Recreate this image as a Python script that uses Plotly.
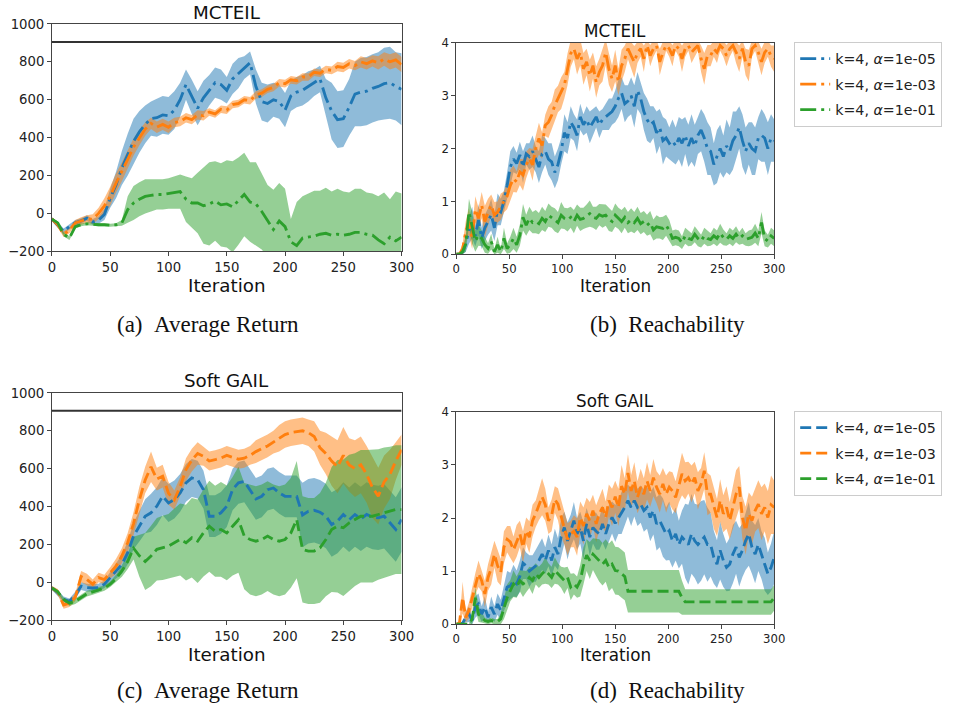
import plotly.graph_objects as go

# ---------------- data ----------------
ITER_RET = list(range(0, 301, 5))     # 61 points, return curves
ITER_REACH = list(range(0, 301, 3))   # 101 points, reachability curves
EXPERT_RETURN = 905
SERIES_NAMES = ["k=4, <i>α</i>=1e-05", "k=4, <i>α</i>=1e-03", "k=4, <i>α</i>=1e-01"]

# (a) MCTEIL - Average Return
A_BLUE_MEAN = [-30, -60, -95, -70, -50, -40, -25, -45, -35, -5,
               80, 150, 240, 310, 380, 430, 470, 500, 505, 520,
               515, 545, 600, 680, 615, 555, 610, 650, 690, 680,
               650, 710, 740, 770, 795, 670, 590, 580, 600, 590,
               545, 620, 640, 650, 670, 690, 710, 610, 540, 495,
               500, 560, 630, 640, 645, 660, 670, 685, 690, 670,
               655]
A_BLUE_STD = [10, 15, 15, 15, 15, 15, 15, 15, 20, 30,
              50, 70, 90, 110, 120, 110, 100, 90, 100, 100,
              100, 100, 90, 80, 90, 90, 90, 80, 80, 80,
              70, 80, 80, 60, 60, 90, 100, 100, 90, 90,
              90, 80, 80, 80, 80, 70, 70, 100, 150, 150,
              150, 150, 170, 180, 180, 180, 180, 190, 190, 180,
              190]
A_ORANGE_MEAN = [-30, -60, -110, -90, -50, -40, -30, -30, 0, 40,
                 90, 160, 220, 285, 350, 400, 445, 475, 455, 470,
                 455, 480, 485, 505, 495, 520, 515, 535, 525, 550,
                 545, 575, 580, 600, 595, 625, 635, 655, 665, 690,
                 685, 705, 700, 720, 720, 745, 740, 760, 755, 775,
                 770, 790, 780, 800, 790, 805, 795, 815, 800, 810,
                 785]
A_ORANGE_STD = [10, 15, 15, 15, 15, 20, 20, 25, 30, 40,
                50, 50, 50, 50, 45, 40, 35, 30, 30, 30,
                30, 25, 25, 25, 25, 25, 25, 20, 20, 20,
                20, 20, 20, 20, 20, 20, 20, 20, 20, 20,
                20, 20, 20, 20, 20, 20, 20, 20, 20, 25,
                25, 25, 25, 30, 30, 30, 35, 35, 40, 40,
                40]
A_GREEN_MEAN = [-30, -50, -110, -130, -70, -60, -55, -58, -60, -60,
                -62, -60, -50, 20, 55, 75, 90, 95, 100, 100,
                105, 110, 115, 75, 55, 55, 40, 50, 65, 45,
                50, 35, 65, 100, 60, 50, 10, -40, -85, -40,
                -70, -150, -170, -130, -125, -120, -110, -105, -115, -110,
                -115, -110, -100, -100, -110, -115, -140, -160, -125, -145,
                -125]
A_GREEN_STD = [5, 8, 10, 10, 10, 8, 8, 8, 8, 8,
               8, 8, 15, 70, 90, 90, 90, 85, 80, 80,
               80, 85, 90, 120, 130, 160, 200, 220, 210, 220,
               230, 240, 230, 220, 210, 220, 200, 190, 210, 200,
               200, 120, 230, 220, 230, 240, 230, 240, 230, 240,
               230, 220, 230, 230, 220, 220, 230, 270, 200, 260,
               230]

# (c) Soft GAIL - Average Return
C_BLUE_MEAN = [-30, -55, -90, -100, -70, -20, -28, -30, -28, -10,
               25, 60, 95, 156, 244, 296, 349, 367, 402, 454,
               419, 437, 472, 525, 551, 542, 489, 349, 349, 367,
               402, 490, 525, 533, 489, 440, 454, 489, 498, 472,
               454, 454, 454, 355, 375, 380, 370, 350, 305, 323,
               358, 330, 358, 335, 358, 345, 340, 349, 314, 279,
               332]
C_BLUE_STD = [10, 15, 15, 15, 20, 20, 20, 20, 20, 20,
              30, 40, 50, 60, 70, 80, 90, 100, 100, 100,
              100, 100, 100, 100, 100, 100, 100, 110, 110, 110,
              110, 110, 110, 110, 110, 110, 110, 110, 110, 110,
              110, 110, 110, 170, 170, 170, 170, 170, 170, 170,
              170, 170, 170, 170, 170, 170, 170, 170, 170, 170,
              170]
C_ORANGE_MEAN = [-30, -50, -120, -110, -80, 30, 15, -10, 25, 15,
                 50, 85, 140, 210, 310, 435, 540, 610, 545, 560,
                 470, 435, 505, 595, 645, 680, 665, 640, 647, 656,
                 670, 660, 650, 655, 670, 690, 705, 720, 740, 760,
                 780, 790, 795, 800, 790, 770, 710, 680, 640, 610,
                 670, 620, 600, 620, 570, 500, 455, 530, 570, 640,
                 700]
C_ORANGE_STD = [10, 15, 20, 20, 20, 30, 30, 25, 25, 25,
                30, 40, 40, 50, 60, 70, 70, 80, 60, 60,
                60, 50, 50, 60, 60, 60, 50, 50, 50, 50,
                50, 50, 50, 50, 50, 60, 60, 60, 60, 70,
                70, 70, 70, 70, 70, 80, 90, 110, 130, 140,
                150, 140, 150, 150, 150, 160, 150, 140, 130, 100,
                80]
C_GREEN_MEAN = [-30, -50, -90, -110, -100, -80, -60, -50, -40, -30,
                -10, 20, 60, 110, 180, 140, 110, 139, 174, 182,
                191, 209, 226, 209, 235, 217, 261, 296, 270, 279,
                261, 296, 330, 244, 226, 217, 226, 244, 226, 217,
                226, 261, 331, 174, 165, 165, 182, 226, 279, 296,
                288, 314, 331, 349, 349, 349, 358, 367, 375, 384,
                384]
C_GREEN_STD = [5, 10, 10, 15, 15, 15, 15, 15, 15, 15,
               15, 20, 30, 40, 60, 110, 150, 160, 165, 170,
               170, 180, 190, 200, 210, 220, 230, 240, 240, 250,
               250, 260, 280, 280, 290, 290, 290, 290, 290, 290,
               290, 290, 310, 280, 280, 280, 290, 300, 330, 350,
               360, 360, 350, 350, 350, 350, 345, 345, 340, 340,
               340]

# (b) MCTEIL - Reachability
B_BLUE_MEAN = [0, 0, 0.05, 0.2, 0.45, 0.6, 0.35, 0.65, 0.3, 0.5,
               0.62, 0.75, 0.5, 0.85, 0.8, 1.0, 1.3, 1.65, 1.8, 1.72,
               1.88, 1.65, 1.9, 1.85, 1.95, 1.8, 1.65, 1.9, 1.95, 1.8,
               1.75, 1.55, 1.7, 1.95, 2.3, 2.2, 2.5, 2.4, 2.25, 2.6,
               2.45, 2.55, 2.4, 2.5, 2.6, 2.45, 2.55, 2.6, 2.65, 2.7,
               2.8, 2.95, 3.05, 2.85, 2.9, 3.0, 2.8, 3.1, 2.95, 2.7,
               2.55, 2.45, 2.5, 2.3, 2.4, 2.15, 2.2, 2.1, 2.15, 2.05,
               2.2, 2.1, 2.25, 2.05, 2.2, 2.05, 2.25, 2.35, 2.2, 2.0,
               1.95, 1.7, 1.85, 2.0, 1.85, 2.05, 1.95, 2.15, 2.25, 2.4,
               2.15, 1.95, 2.1, 2.0, 1.95, 2.2, 2.25, 2.2, 2.0, 2.2,
               2.15]
B_BLUE_STD = [0, 0, 0.05, 0.15, 0.25, 0.3, 0.2, 0.3, 0.2, 0.25,
              0.25, 0.3, 0.25, 0.3, 0.25, 0.2, 0.25, 0.3, 0.25, 0.2,
              0.25, 0.3, 0.2, 0.25, 0.3, 0.25, 0.3, 0.35, 0.25, 0.3,
              0.35, 0.3, 0.3, 0.25, 0.35, 0.3, 0.3, 0.25, 0.3, 0.25,
              0.2, 0.25, 0.3, 0.25, 0.2, 0.25, 0.2, 0.25, 0.3, 0.25,
              0.3, 0.35, 0.3, 0.35, 0.3, 0.35, 0.4, 0.35, 0.3, 0.35,
              0.4, 0.35, 0.3, 0.4, 0.35, 0.45, 0.35, 0.3, 0.4, 0.35,
              0.4, 0.45, 0.35, 0.4, 0.45, 0.4, 0.35, 0.4, 0.45, 0.5,
              0.45, 0.4, 0.5, 0.45, 0.4, 0.5, 0.45, 0.55, 0.45, 0.4,
              0.5, 0.45, 0.4, 0.5, 0.45, 0.4, 0.5, 0.45, 0.5, 0.45,
              0.4]
B_ORANGE_MEAN = [0, 0, 0.1, 0.43, 0.62, 0.3, 0.85, 0.68, 0.93, 0.62,
                 0.8, 0.93, 0.74, 0.8, 0.9, 0.99, 1.1, 1.3, 1.43, 1.37,
                 1.56, 1.5, 1.69, 1.81, 1.69, 2.0, 2.19, 2.06, 2.44, 2.5,
                 2.63, 2.82, 2.94, 3.05, 3.2, 3.5, 3.8, 3.89, 3.7, 3.82,
                 3.51, 3.64, 3.38, 3.57, 3.26, 3.45, 3.57, 3.82, 3.51, 3.32,
                 3.57, 3.26, 3.57, 3.7, 3.89, 3.76, 3.64, 3.82, 3.89, 3.7,
                 3.95, 3.76, 3.89, 3.95, 3.64, 3.82, 3.95, 3.89, 3.76, 3.95,
                 3.89, 3.7, 3.89, 3.95, 3.82, 3.89, 3.95, 3.7, 3.51, 3.76,
                 3.76, 3.89, 3.82, 3.95, 3.89, 3.76, 3.89, 3.95, 3.82, 3.7,
                 3.89, 3.64, 3.57, 3.89, 3.95, 3.82, 3.64, 3.82, 3.89, 3.75,
                 3.7]
B_ORANGE_STD = [0, 0.05, 0.1, 0.2, 0.25, 0.2, 0.25, 0.2, 0.25, 0.3,
                0.25, 0.2, 0.25, 0.2, 0.25, 0.2, 0.25, 0.3, 0.25, 0.2,
                0.25, 0.3, 0.25, 0.2, 0.3, 0.25, 0.3, 0.25, 0.2, 0.3,
                0.25, 0.3, 0.25, 0.3, 0.25, 0.3, 0.25, 0.2, 0.3, 0.25,
                0.3, 0.25, 0.3, 0.25, 0.3, 0.25, 0.3, 0.25, 0.3, 0.25,
                0.3, 0.25, 0.3, 0.25, 0.2, 0.25, 0.3, 0.2, 0.15, 0.25,
                0.1, 0.2, 0.15, 0.1, 0.25, 0.2, 0.1, 0.15, 0.2, 0.1,
                0.15, 0.25, 0.15, 0.1, 0.2, 0.15, 0.1, 0.25, 0.3, 0.2,
                0.2, 0.15, 0.2, 0.1, 0.15, 0.2, 0.15, 0.1, 0.2, 0.25,
                0.15, 0.25, 0.3, 0.15, 0.1, 0.2, 0.25, 0.2, 0.15, 0.2,
                0.25]
B_GREEN_MEAN = [0, 0, 0.05, 0.2, 0.8, 0.5, 0.25, 0.36, 0.3, 0.18,
                0.11, 0.24, 0.05, 0.18, 0.05, 0.3, 0.11, 0.18, 0.3, 0.18,
                0.36, 0.7, 0.55, 0.68, 0.6, 0.62, 0.58, 0.68, 0.62, 0.74,
                0.7, 0.65, 0.6, 0.74, 0.68, 0.65, 0.7, 0.62, 0.74, 0.66,
                0.68, 0.72, 0.77, 0.7, 0.68, 0.75, 0.72, 0.74, 0.66, 0.62,
                0.74, 0.68, 0.62, 0.7, 0.6, 0.65, 0.6, 0.68, 0.58, 0.62,
                0.55, 0.6, 0.46, 0.52, 0.5, 0.49, 0.55, 0.45, 0.3, 0.32,
                0.3, 0.22, 0.35, 0.3, 0.28, 0.38, 0.3, 0.25, 0.35, 0.3,
                0.28, 0.35, 0.3, 0.4, 0.32, 0.28, 0.35, 0.3, 0.38, 0.3,
                0.35, 0.28, 0.3, 0.32, 0.4, 0.3, 0.6, 0.3, 0.25, 0.35,
                0.3]
B_GREEN_STD = [0, 0, 0.05, 0.15, 0.25, 0.3, 0.2, 0.2, 0.15, 0.15,
               0.1, 0.15, 0.05, 0.15, 0.05, 0.2, 0.1, 0.15, 0.2, 0.15,
               0.2, 0.25, 0.2, 0.22, 0.2, 0.22, 0.2, 0.22, 0.2, 0.22,
               0.2, 0.22, 0.2, 0.25, 0.2, 0.22, 0.2, 0.22, 0.2, 0.22,
               0.2, 0.22, 0.25, 0.2, 0.22, 0.2, 0.22, 0.2, 0.22, 0.2,
               0.22, 0.2, 0.22, 0.2, 0.2, 0.22, 0.2, 0.22, 0.2, 0.2,
               0.2, 0.22, 0.2, 0.22, 0.2, 0.22, 0.2, 0.2, 0.15, 0.15,
               0.15, 0.12, 0.15, 0.15, 0.12, 0.15, 0.15, 0.12, 0.15, 0.15,
               0.12, 0.15, 0.15, 0.18, 0.15, 0.12, 0.15, 0.15, 0.15, 0.12,
               0.15, 0.12, 0.15, 0.15, 0.18, 0.15, 0.2, 0.15, 0.12, 0.15,
               0.15]

# (d) Soft GAIL - Reachability
D_BLUE_MEAN = [0, 0, 0.02, 0.13, 0.19, 0.07, 0.32, 0.38, 0.19, 0.32,
               0.13, 0.32, 0.19, 0.38, 0.26, 0.5, 0.7, 0.72, 0.82, 0.76,
               0.9, 1.15, 1.1, 1.0, 1.05, 1.1, 1.2, 1.32, 1.2, 1.39,
               1.2, 1.45, 1.32, 1.65, 1.82, 1.57, 1.76, 1.95, 1.7, 1.82,
               1.57, 1.89, 1.64, 1.82, 1.75, 1.7, 1.89, 1.7, 1.89, 2.01,
               1.9, 2.0, 2.1, 2.2, 2.33, 2.2, 2.33, 2.2, 2.26, 2.14,
               2.2, 2.01, 2.14, 1.89, 1.95, 1.82, 1.7, 1.76, 1.57, 1.7,
               1.5, 1.64, 1.57, 1.5, 1.7, 1.57, 1.5, 1.57, 1.64, 1.5,
               1.5, 1.26, 1.13, 1.39, 1.2, 1.07, 1.13, 1.32, 1.45, 1.26,
               1.39, 1.57, 1.7, 1.45, 1.32, 1.5, 1.3, 1.13, 0.95, 1.07,
               1.26]
D_BLUE_STD = [0, 0, 0.02, 0.1, 0.15, 0.07, 0.2, 0.2, 0.15, 0.2,
              0.1, 0.2, 0.15, 0.2, 0.2, 0.25, 0.3, 0.25, 0.3, 0.25,
              0.3, 0.3, 0.25, 0.3, 0.25, 0.3, 0.3, 0.3, 0.25, 0.3,
              0.3, 0.35, 0.3, 0.35, 0.3, 0.35, 0.3, 0.35, 0.3, 0.3,
              0.35, 0.3, 0.35, 0.3, 0.35, 0.3, 0.35, 0.3, 0.35, 0.3,
              0.35, 0.3, 0.4, 0.35, 0.3, 0.35, 0.3, 0.35, 0.35, 0.4,
              0.4, 0.45, 0.45, 0.5, 0.5, 0.55, 0.5, 0.55, 0.5, 0.5,
              0.45, 0.5, 0.7, 0.75, 0.75, 0.7, 0.75, 0.75, 0.7, 0.7,
              0.6, 0.5, 0.45, 0.55, 0.5, 0.45, 0.5, 0.55, 0.5, 0.55,
              0.5, 0.55, 0.6, 0.5, 0.55, 0.5, 0.45, 0.5, 0.4, 0.45,
              0.5]
D_ORANGE_MEAN = [0, 0.02, 0.5, 0.13, 0.26, 0.5, 0.76, 0.95, 0.82, 0.57,
                 0.88, 1.05, 1.32, 1.1, 0.98, 1.45, 1.6, 1.55, 1.4, 1.57,
                 1.7, 1.45, 1.76, 1.64, 1.95, 2.08, 2.26, 2.4, 2.25, 1.95,
                 2.05, 2.35, 2.26, 2.0, 1.8, 1.6, 1.7, 1.75, 1.64, 2.01,
                 1.85, 2.08, 1.95, 2.14, 1.89, 2.08, 2.2, 2.01, 2.33, 2.2,
                 2.4, 2.2, 2.6, 2.45, 2.85, 2.51, 2.7, 2.39, 2.58, 2.45,
                 2.7, 2.51, 2.76, 2.58, 2.45, 2.64, 2.45, 2.58, 2.51, 2.39,
                 2.64, 2.83, 2.7, 2.76, 2.64, 2.76, 2.51, 2.64, 2.89, 2.45,
                 2.45, 2.2, 2.01, 2.33, 2.08, 2.2, 1.95, 2.2, 2.45, 2.58,
                 2.01, 1.76, 2.08, 1.95, 2.14, 2.26, 2.08, 2.2, 2.01, 2.25,
                 2.2]
D_ORANGE_STD = [0, 0.02, 0.3, 0.1, 0.15, 0.2, 0.2, 0.25, 0.2, 0.25,
                0.25, 0.3, 0.25, 0.3, 0.25, 0.3, 0.25, 0.3, 0.25, 0.3,
                0.25, 0.3, 0.25, 0.3, 0.3, 0.25, 0.3, 0.35, 0.3, 0.25,
                0.3, 0.25, 0.3, 0.35, 0.3, 0.3, 0.25, 0.3, 0.35, 0.3,
                0.35, 0.3, 0.35, 0.3, 0.35, 0.3, 0.35, 0.3, 0.3, 0.35,
                0.3, 0.35, 0.4, 0.3, 0.35, 0.3, 0.35, 0.3, 0.35, 0.3,
                0.35, 0.3, 0.35, 0.3, 0.35, 0.3, 0.35, 0.3, 0.35, 0.3,
                0.35, 0.4, 0.35, 0.3, 0.35, 0.3, 0.35, 0.3, 0.35, 0.4,
                0.35, 0.4, 0.35, 0.4, 0.35, 0.4, 0.35, 0.4, 0.45, 0.4,
                0.4, 0.45, 0.4, 0.45, 0.4, 0.45, 0.5, 0.45, 0.5, 0.55,
                0.5]
D_GREEN_MEAN = [0, 0, 0, 0, 0, 0.1, 0.5, 0.19, 0.13, 0.07,
                0.05, 0.07, 0.05, 0.05, 0.1, 0.3, 0.5, 0.63, 0.76, 0.7,
                0.82, 0.76, 0.8, 0.88, 0.82, 0.95, 0.88, 0.95, 1.01, 0.95,
                0.88, 1.01, 0.95, 0.88, 0.82, 0.88, 0.7, 0.76, 0.7, 0.82,
                1.1, 1.3, 1.2, 1.32, 1.26, 1.2, 1.13, 1.2, 1.07, 1.13,
                1.01, 1.0, 0.95, 0.9, 0.62, 0.62, 0.62, 0.62, 0.62, 0.62,
                0.62, 0.62, 0.62, 0.62, 0.62, 0.62, 0.62, 0.62, 0.62, 0.62,
                0.62, 0.5, 0.42, 0.42, 0.42, 0.42, 0.42, 0.42, 0.42, 0.42,
                0.42, 0.42, 0.42, 0.42, 0.42, 0.42, 0.42, 0.42, 0.42, 0.42,
                0.42, 0.42, 0.42, 0.42, 0.42, 0.42, 0.42, 0.42, 0.42, 0.42,
                0.5]
D_GREEN_STD = [0, 0, 0, 0, 0, 0.1, 0.2, 0.15, 0.1, 0.05,
               0.05, 0.05, 0.05, 0.05, 0.1, 0.2, 0.25, 0.2, 0.25, 0.2,
               0.2, 0.25, 0.2, 0.2, 0.25, 0.2, 0.2, 0.2, 0.25, 0.2,
               0.2, 0.25, 0.2, 0.2, 0.25, 0.2, 0.25, 0.2, 0.2, 0.3,
               0.35, 0.3, 0.35, 0.3, 0.35, 0.4, 0.4, 0.4, 0.45, 0.45,
               0.45, 0.45, 0.45, 0.45, 0.4, 0.4, 0.4, 0.4, 0.4, 0.4,
               0.4, 0.4, 0.4, 0.4, 0.4, 0.4, 0.4, 0.4, 0.4, 0.4,
               0.4, 0.32, 0.24, 0.24, 0.24, 0.24, 0.24, 0.24, 0.24, 0.24,
               0.24, 0.24, 0.24, 0.24, 0.24, 0.24, 0.24, 0.24, 0.24, 0.24,
               0.24, 0.24, 0.24, 0.24, 0.24, 0.24, 0.24, 0.24, 0.24, 0.24,
               0.24]

# ---------------- style ----------------
W, H = 955, 709
# the page is photographed slightly scaled with a small offset; place items so they land on target pixels
SX, SY, OX, OY = 0.9832, 0.9817, 4.0, 6.0
FS = 1 / SX
LINE_COLORS = ["#1f77b4", "#ff7f0e", "#2ca02c"]
FILL_COLORS = ["rgba(31,119,180,0.5)", "rgba(255,127,14,0.5)", "rgba(44,160,44,0.5)"]
DASHDOT = "16px,5px,3px,5px"
DASHED = "11px,5px"


def px(x):
    return ((x - OX) / SX) / W


def py(y):
    return 1 - ((y - OY) / SY) / H


fig = go.Figure()

panels = [
    ("x", "y", ITER_RET, [(A_BLUE_MEAN, A_BLUE_STD), (A_ORANGE_MEAN, A_ORANGE_STD), (A_GREEN_MEAN, A_GREEN_STD)], DASHDOT, None),
    ("x2", "y2", ITER_REACH, [(B_BLUE_MEAN, B_BLUE_STD), (B_ORANGE_MEAN, B_ORANGE_STD), (B_GREEN_MEAN, B_GREEN_STD)], DASHDOT, "legend"),
    ("x3", "y3", ITER_RET, [(C_BLUE_MEAN, C_BLUE_STD), (C_ORANGE_MEAN, C_ORANGE_STD), (C_GREEN_MEAN, C_GREEN_STD)], DASHED, None),
    ("x4", "y4", ITER_REACH, [(D_BLUE_MEAN, D_BLUE_STD), (D_ORANGE_MEAN, D_ORANGE_STD), (D_GREEN_MEAN, D_GREEN_STD)], DASHED, "legend2"),
]

for xa, ya, iters, series, dash, leg in panels:
    for i, (m, s) in enumerate(series):
        up = [a + b for a, b in zip(m, s)]
        lo = [a - b for a, b in zip(m, s)]
        fig.add_trace(go.Scatter(x=iters, y=up, mode="lines", line=dict(width=0, color=LINE_COLORS[i]),
                                 showlegend=False, hoverinfo="skip", xaxis=xa, yaxis=ya))
        fig.add_trace(go.Scatter(x=iters, y=lo, mode="lines", line=dict(width=0, color=LINE_COLORS[i]),
                                 fill="tonexty", fillcolor=FILL_COLORS[i],
                                 showlegend=False, hoverinfo="skip", xaxis=xa, yaxis=ya))
    if ya in ("y", "y3"):
        fig.add_trace(go.Scatter(x=[ITER_RET[0], ITER_RET[-1]], y=[EXPERT_RETURN, EXPERT_RETURN], mode="lines",
                                 line=dict(color="#333333", width=2), showlegend=False, hoverinfo="skip",
                                 xaxis=xa, yaxis=ya))
    for i, (m, s) in enumerate(series):
        fig.add_trace(go.Scatter(x=iters, y=m, mode="lines", name=SERIES_NAMES[i],
                                 line=dict(color=LINE_COLORS[i], width=2.85, dash=dash),
                                 showlegend=leg is not None, legend=leg if leg else "legend",
                                 legendgroup=f"{xa}{i}", xaxis=xa, yaxis=ya))


def xaxis(domain, anchor, fs):
    return dict(domain=domain, anchor=anchor, range=[0, 300], tickvals=[0, 50, 100, 150, 200, 250, 300],
                showline=True, linecolor="#444", linewidth=1, mirror=True, ticks="outside", ticklen=4,
                tickwidth=1, tickcolor="#444", showgrid=False, zeroline=False,
                tickfont=dict(family="DejaVu Sans", size=fs, color="#222"))


def yaxis(domain, anchor, rng, vals, fs):
    return dict(domain=domain, anchor=anchor, range=rng, tickvals=vals,
                showline=True, linecolor="#444", linewidth=1, mirror=True, ticks="outside", ticklen=4,
                tickwidth=1, tickcolor="#444", showgrid=False, zeroline=False,
                tickfont=dict(family="DejaVu Sans", size=fs, color="#222"))


RET_TICKS = [-200, 0, 200, 400, 600, 800, 1000]
REACH_TICKS = [0, 1, 2, 3, 4]

XA = [px(52), px(402)]
XB = [px(456.7), px(775)]

legend_style = dict(xanchor="left", yanchor="top", bgcolor="rgba(255,255,255,0.85)", bordercolor="#cccccc",
                    borderwidth=1, font=dict(family="DejaVu Sans", size=14 * FS, color="#222"),
                    itemwidth=30, tracegroupgap=4)

annotations = []


def text(x, y, s, size, family="DejaVu Sans"):
    annotations.append(dict(x=px(x), y=py(y), xref="paper", yref="paper", text=s, showarrow=False,
                            xanchor="center", yanchor="middle",
                            font=dict(family=family, size=size, color="#111")))


text(227, 12, "MCTEIL", 18 * FS)
text(616, 30, "MCTEIL", 16.5 * FS)
text(227, 381, "Soft GAIL", 18 * FS)
text(616, 401, "Soft GAIL", 16.5 * FS)
text(227, 285, "Iteration", 18 * FS)
text(616, 286, "Iteration", 16.5 * FS)
text(227, 655, "Iteration", 18 * FS)
text(616, 656, "Iteration", 16.5 * FS)
text(208, 324, "(a)\u2002Average Return", 23, "Liberation Serif")
text(668, 324, "(b)\u2002Reachability", 23, "Liberation Serif")
text(208, 691, "(c)\u2002Average Return", 23, "Liberation Serif")
text(668, 691, "(d)\u2002Reachability", 23, "Liberation Serif")

fig.update_layout(
    width=W, height=H, margin=dict(l=0, r=0, t=0, b=0),
    paper_bgcolor="white", plot_bgcolor="white",
    xaxis=xaxis(XA, "y", 13 * FS),
    yaxis=yaxis([py(251), py(23)], "x", [-200, 1000], RET_TICKS, 13 * FS),
    xaxis2=xaxis(XB, "y2", 11.5 * FS),
    yaxis2=yaxis([py(254), py(42)], "x2", [0, 4], REACH_TICKS, 11.5 * FS),
    xaxis3=xaxis(XA, "y3", 13 * FS),
    yaxis3=yaxis([py(621), py(393)], "x3", [-200, 1000], RET_TICKS, 13 * FS),
    xaxis4=xaxis(XB, "y4", 11.5 * FS),
    yaxis4=yaxis([py(625), py(412)], "x4", [0, 4], REACH_TICKS, 11.5 * FS),
    legend=dict(x=px(795), y=py(41), **legend_style),
    legend2=dict(x=px(795), y=py(411), **legend_style),
    annotations=annotations,
)

fig.write_html("out.html", config={"displayModeBar": False},
               post_script="document.body.style.margin='0';document.body.style.overflow='hidden';")
